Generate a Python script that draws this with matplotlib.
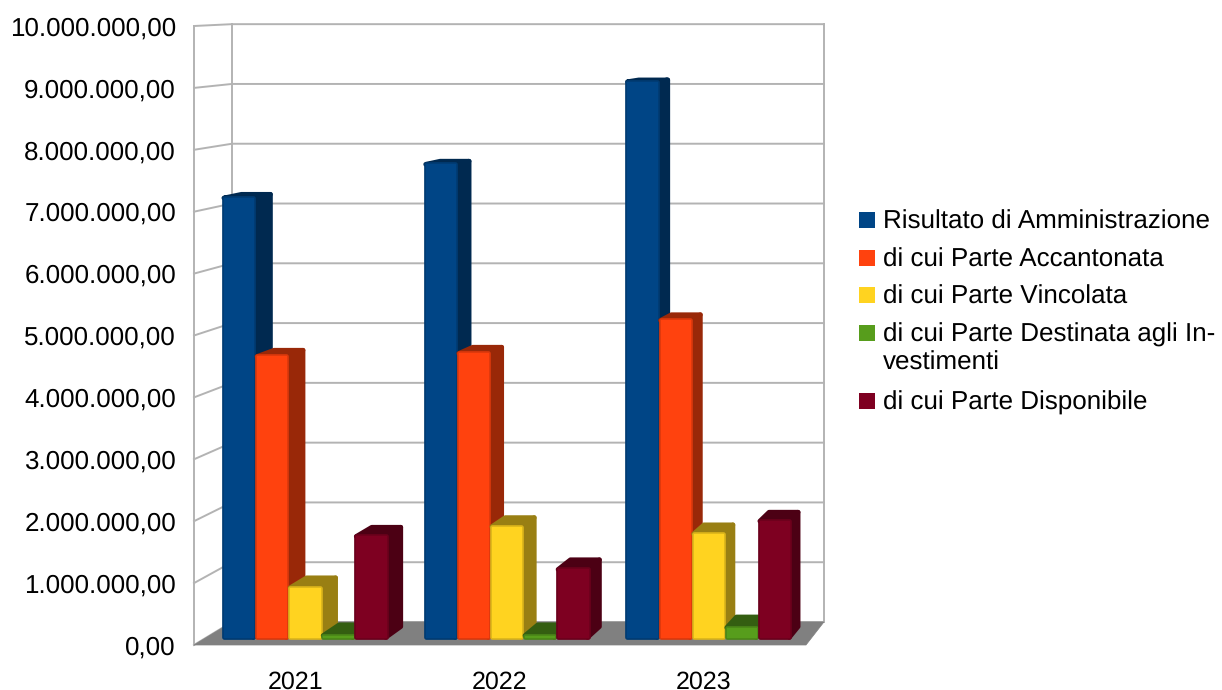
import matplotlib
matplotlib.use('Agg')
import matplotlib.pyplot as plt
from matplotlib.patches import Polygon, Rectangle
from matplotlib.ticker import FuncFormatter
import numpy as np

plt.rcParams['font.family'] = ['Liberation Sans', 'DejaVu Sans']
plt.rcParams['text.hinting'] = 'no_hinting'
plt.rcParams['text.hinting_factor'] = 1

# values in euro
years = ['2021', '2022', '2023']
series_names = ['Risultato di Amministrazione',
                'di cui Parte Accantonata',
                'di cui Parte Vincolata',
                'di cui Parte Destinata agli In-\nvestimenti',
                'di cui Parte Disponibile']
risultato = [7180000, 7730000, 9080000]
accantonata = [4590000, 4640000, 5180000]
vincolata = [810000, 1810000, 1690000]
destinata = [30000, 30000, 160000]
disponibile = [1650000, 1110000, 1900000]
series = [risultato, accantonata, vincolata, destinata, disponibile]

colors = ['#004586', '#ff420e', '#ffd320', '#579d1c', '#7e0021']
y_ticks = np.arange(0, 10000001, 1000000)

W, H = 1222, 690


# perspective of the box: t=0 front plane, t=1 back wall
def px(x, t):
    return x + t * (0.186 - 0.0327 * x)


def py(v, t):
    return v + t * (371600 - 0.0342 * v)


def shade(col, f):
    rgb = np.array(matplotlib.colors.to_rgb(col))
    return tuple(rgb * f)


def it_fmt(v, pos=None):
    s = '{:,.2f}'.format(v)
    return s.replace(',', 'X').replace('.', ',').replace('X', '.')


fig = plt.figure(figsize=(W / 100, H / 100), dpi=100)
ax = fig.add_axes([194 / W, 1 - 645 / H, 612 / W, 619 / H])
ax.set_xlim(0, 3)
ax.set_ylim(0, 10000000)
for s in ax.spines.values():
    s.set_visible(False)

grid_col = '#b3b3b3'
x_end = len(years)
top = y_ticks[-1]

# walls and gridlines
for v in y_ticks:
    ax.plot([px(0, 0), px(0, 1), px(x_end, 1)], [py(v, 0), py(v, 1), py(v, 1)],
            color=grid_col, lw=1.4, clip_on=False, zorder=1)
ax.plot([px(0, 0), px(0, 0)], [py(0, 0), py(top, 0)], color=grid_col, lw=1.4, clip_on=False, zorder=1)
ax.plot([px(0, 1), px(0, 1)], [py(0, 1), py(top, 1)], color=grid_col, lw=1.4, clip_on=False, zorder=1)
ax.plot([px(x_end, 1), px(x_end, 1)], [py(0, 1), py(top, 1)], color=grid_col, lw=1.4, clip_on=False, zorder=1)

# floor
floor = [(px(0, 0), py(0, 0)), (px(x_end, 0), py(0, 0)),
         (px(x_end, 1), py(0, 1)), (px(0, 1), py(0, 1))]
ax.add_patch(Polygon(floor, closed=True, fc='#808080', ec='#808080', lw=0.5, clip_on=False, zorder=2))


def draw_bar(x0, x1, v, col, z):
    t0, t1 = 0.33, 0.8
    side = [(px(x1, t0), py(0, t0)), (px(x1, t1), py(0, t1)),
            (px(x1, t1), py(v, t1)), (px(x1, t0), py(v, t0))]
    upper = [(px(x0, t0), py(v, t0)), (px(x1, t0), py(v, t0)),
             (px(x1, t1), py(v, t1)), (px(x0, t1), py(v, t1))]
    front = [(px(x0, t0), py(0, t0)), (px(x1, t0), py(0, t0)),
             (px(x1, t0), py(v, t0)), (px(x0, t0), py(v, t0))]
    dark = shade(col, 0.6)
    for pts in (side, upper):
        ax.add_patch(Polygon(pts, closed=True, fc=dark, ec=dark, lw=3.4, joinstyle='round',
                             clip_on=False, zorder=z))
    # wide soft rim first, then the face on top of it
    ax.add_patch(Polygon(front, closed=True, fc=col, ec=shade(col, 0.85), lw=3.4, joinstyle='round',
                         clip_on=False, zorder=z + 0.1))
    ax.add_patch(Polygon(front, closed=True, fc=col, ec=col, lw=1.0, joinstyle='round',
                         clip_on=False, zorder=z + 0.2))


margin = 0.084
bw = 0.164
for i in range(len(years)):
    for j, vals in enumerate(series):
        x0 = i + margin + j * bw + 0.002
        draw_bar(x0, x0 + bw - 0.018, vals[i], colors[j], 3 + i + j * 0.3)

ax.set_yticks(y_ticks)
ax.yaxis.set_major_formatter(FuncFormatter(it_fmt))
ax.set_xticks(np.arange(len(years)) + 0.5)
ax.set_xticklabels(years)
ax.tick_params(axis='y', length=0, pad=13, labelsize=18.7, labelcolor='#000000')
ax.tick_params(axis='x', length=0, pad=18.6, labelsize=18, labelcolor='#000000')

# legend, built by hand so the square stays on the first line of a wrapped entry
row_y = [220, 258, 295, 333, 401]
for name, col, yp in zip(series_names, colors, row_y):
    fig.add_artist(Rectangle((859 / W, 1 - (yp + 8) / H), 16 / W, 16 / H, fc=col, ec='none',
                             transform=fig.transFigure))
    fig.text(883 / W, 1 - (yp - 10) / H, name, fontsize=18.85, color='black', va='top',
             linespacing=1.17)

fig.savefig('out.png', dpi=100)
